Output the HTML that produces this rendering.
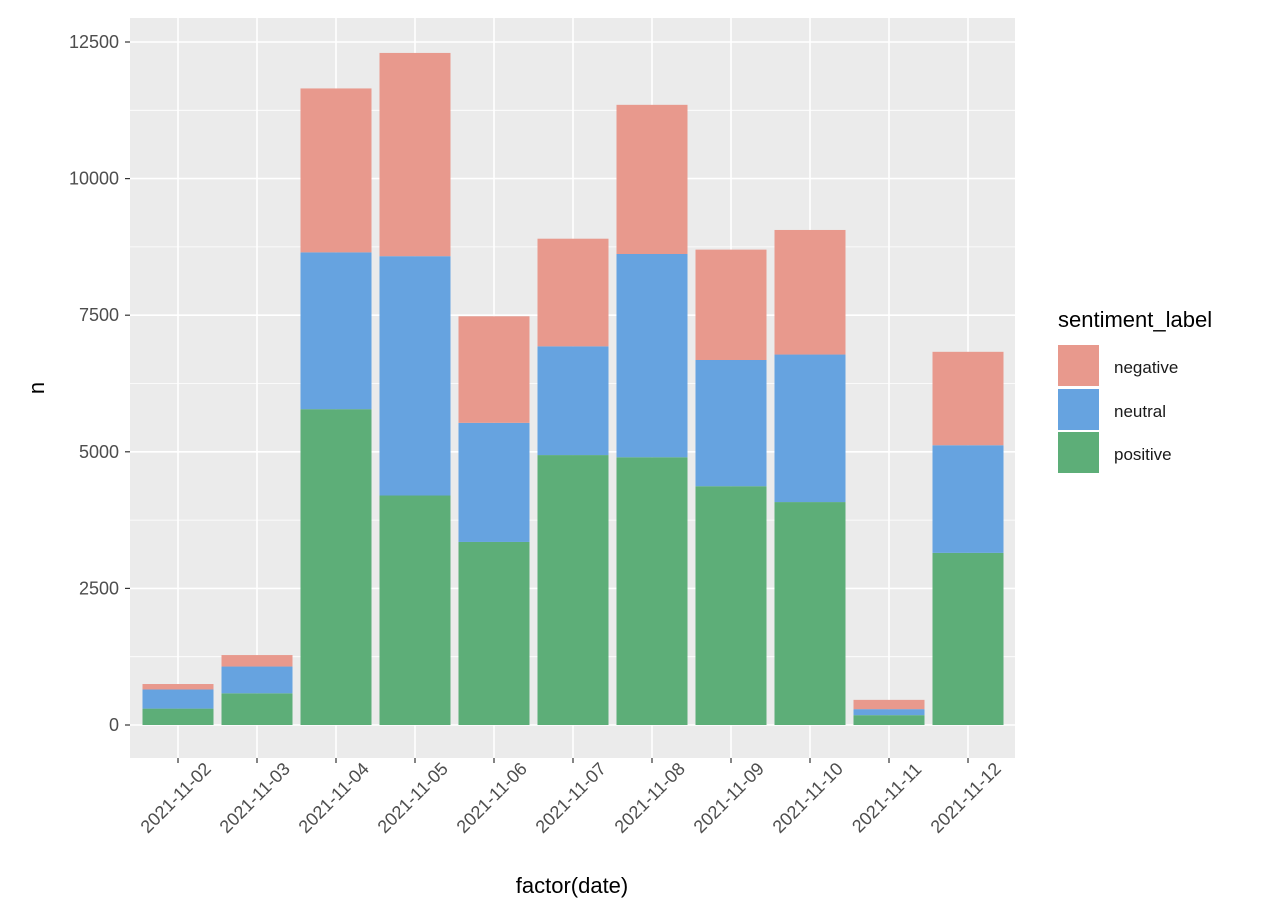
<!DOCTYPE html>
<html><head><meta charset="utf-8"><style>
body{margin:0;background:#fff;}
svg text{font-family:"Liberation Sans",Arial,sans-serif;}
</style></head><body>
<svg id="chart" width="1278" height="916" xmlns="http://www.w3.org/2000/svg">
<rect x="0" y="0" width="1278" height="916" fill="#fff"/>
<rect x="130" y="18" width="885" height="740" fill="#EBEBEB"/>
<g id="grid"></g><g id="bars"></g><g id="axes"></g>
<text x="572" y="893" font-size="22" text-anchor="middle" fill="#000">factor(date)</text>
<text transform="translate(44,388) rotate(-90)" font-size="22" text-anchor="middle" fill="#000">n</text>
<g>
<text x="1058" y="327" font-size="22" fill="#000">sentiment_label</text>
<rect x="1058" y="345" width="41" height="41" fill="#E8998D"/>
<text x="1114" y="373" font-size="17" fill="#1a1a1a">negative</text>
<rect x="1058" y="389" width="41" height="41" fill="#66A3E0"/>
<text x="1114" y="417" font-size="17" fill="#1a1a1a">neutral</text>
<rect x="1058" y="432" width="41" height="41" fill="#5DAE78"/>
<text x="1114" y="460" font-size="17" fill="#1a1a1a">positive</text>
</g>
</svg>
<script>
const categories=["2021-11-02","2021-11-03","2021-11-04","2021-11-05","2021-11-06","2021-11-07","2021-11-08","2021-11-09","2021-11-10","2021-11-11","2021-11-12"];
const positive=[300,580,5780,4200,3350,4940,4900,4370,4080,180,3150];
const neutral=[350,490,2870,4380,2180,1990,3720,2310,2700,110,1970];
const negative=[100,210,3000,3720,1950,1970,2730,2020,2280,170,1710];
const yTicks=[0,2500,5000,7500,10000,12500];
const NS="http://www.w3.org/2000/svg";
const y0=725, pxPer=683/12500;
const yS=v=>y0-v*pxPer;
const xS=i=>178+i*79;
const bw=71;
function mk(tag,attrs,parent){const e=document.createElementNS(NS,tag);for(const k in attrs)e.setAttribute(k,attrs[k]);parent.appendChild(e);return e;}
const grid=document.getElementById('grid'),bars=document.getElementById('bars'),axes=document.getElementById('axes');
yTicks.forEach((t,i)=>{
  if(i<yTicks.length-1){const m=mk('line',{x1:130,x2:1015,y1:yS(t+1250),y2:yS(t+1250),stroke:'#fff','stroke-width':0.8},grid);
  
  }
  const g=mk('line',{x1:130,x2:1015,y1:yS(t),y2:yS(t),stroke:'#fff','stroke-width':1.6},grid);
  
  
  const tk=mk('line',{x1:125,x2:130,y1:yS(t),y2:yS(t),stroke:'#333','stroke-width':1.2},axes);
  
  
  const tx=mk('text',{x:119,y:yS(t)+6,'font-size':18,'text-anchor':'end',fill:'#4d4d4d'},axes);
  tx.textContent=t;
  
  
});
const series=[[positive,'#5DAE78','positive'],[neutral,'#66A3E0','neutral'],[negative,'#E8998D','negative']];
categories.forEach((c,i)=>{
  const vg=mk('line',{x1:xS(i),x2:xS(i),y1:18,y2:758,stroke:'#fff','stroke-width':1.6},grid);
  
  
  let base=0;
  series.forEach(([arr,col,nm])=>{
    const r=mk('rect',{x:xS(i)-bw/2,y:yS(base+arr[i]),width:bw,height:arr[i]*pxPer,fill:col},bars);
    
    
    base+=arr[i];
  });
  const tk=mk('line',{x1:xS(i),x2:xS(i),y1:758,y2:763,stroke:'#333','stroke-width':1.2},axes);
  
  
  const tx=mk('text',{transform:`translate(${xS(i)+2},${802}) rotate(-45)`,'font-size':18,'text-anchor':'middle',fill:'#4d4d4d'},axes);
  tx.textContent=c;
  
  
});
</script>
</body></html>
